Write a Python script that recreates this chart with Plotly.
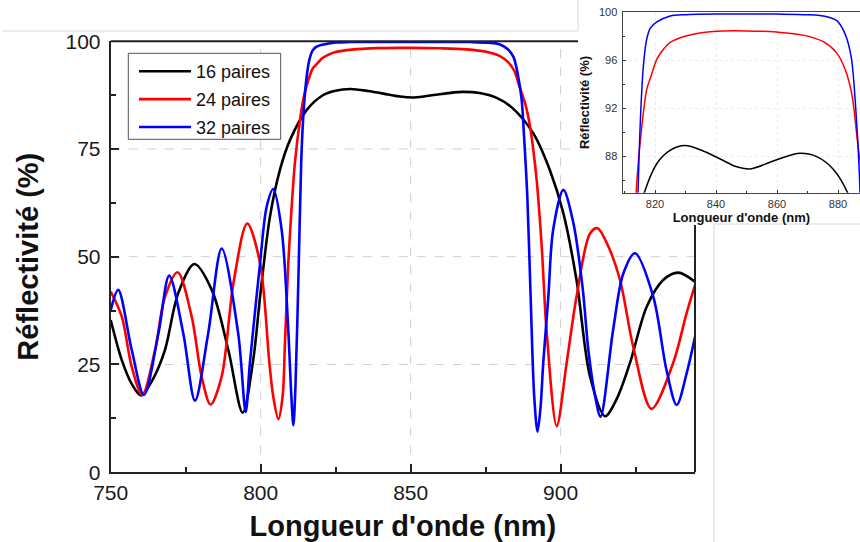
import plotly.graph_objects as go

W, H = 860, 542

# ---------------- data ----------------
series_names = ["16 paires", "24 paires", "32 paires"]
series_colors = ["#000000", "#ff0000", "#0000ff"]

wl_16 = [750, 753.7, 757, 760.1, 764, 768.1, 772.5, 777.9, 783.7, 789.2, 794, 797.5,
         799.8, 803.1, 806.4, 809.8, 815.3, 820.6, 824.9, 829.8, 835.8, 842.4, 846.5,
         851.2, 857.7, 862.5, 867.5, 873, 878.5, 883.6, 890.9, 896.4, 900.9, 905.3,
         909.8, 914.8, 918.7, 923.1, 928.7, 934.2, 939.2, 944.8]
R_16 = [35.3, 26, 20.5, 17.8, 21.5, 28.4, 41.5, 48.3, 42.3, 28.4, 13.8, 26,
        40.7, 59.3, 70.1, 77.1, 84, 87.4, 88.5, 88.9, 88.45, 87.65, 87.15,
        86.95, 87.5, 87.95, 88.25, 87.97, 86.9, 84.7, 78.6, 70.1, 60.1, 44.6,
        22.2, 13, 17, 25.3, 38.4, 44.6, 46.3, 44.2]

wl_24 = [750, 753.7, 757, 760.5, 764.8, 768.1, 772.3, 777, 780.3, 783.3, 787, 790.9,
         795.5, 799.8, 802.9, 804.2, 805.9, 807.3, 808.1, 809.2, 810, 811.4, 813.1,
         814.2, 815.3, 817.3, 818.6, 820.6, 823, 825, 830.4, 839, 850, 860, 868.6,
         875.2, 879.6, 882.4, 884.5, 886.4, 888.2, 889.8, 892, 893.7, 895.3, 898.7,
         902, 905.3, 909.8, 912.3, 915.5, 919.8, 924.2, 930.3, 937.5, 942, 944.8]
R_24 = [41.9, 36.1, 24.5, 17.9, 28.4, 40.7, 46.4, 36.1, 22.2, 15.7, 22.2, 43.8,
        57.7, 48.5, 25.3, 17.5, 12.3, 17.5, 30, 48.5, 58, 71.7, 81.7,
        86.5, 89.6, 93.6, 94.6, 96.1, 97, 97.5, 98.05, 98.4, 98.45, 98.35, 98.1,
        97.55, 96.6, 95.2, 93.2, 89.2, 85.5, 80.2, 67.8, 52.3, 33, 10.7,
        25.3, 40.7, 55.4, 56.6, 53, 44.6, 29.1, 14.7, 25.3, 36.9, 43.4]

wl_32 = [750, 752.5, 757, 761.1, 765.9, 769.5, 774.2, 778.1, 782.5, 787, 792.5, 795,
         796.4, 799.8, 802, 804.2, 807, 809.2, 810.2, 810.9, 811.6, 812.7, 813.5,
         814.2, 815.2, 816.2, 817.3, 818.5, 820.6, 825, 830, 840, 850, 860, 870,
         876, 879.6, 882.3, 884.3, 885.8, 887, 887.8, 888.9, 890, 891.2, 892.3,
         893.3, 894.2, 895.9, 897.5, 900.9, 904.2, 907.3, 909.3, 911.4, 913.3,
         917.5, 920.9, 924.8, 930.9, 935.3, 938.7, 942, 944.8]
R_32 = [37.6, 42.3, 28.4, 17.9, 32.2, 45.6, 32.2, 16.6, 32.2, 51.9, 32.2, 14,
        25.3, 48.5, 61.6, 65.7, 56.2, 33, 18, 10.9, 20, 48.5, 71.7,
        82.5, 91, 95.6, 97.8, 98.7, 99.2, 99.7, 99.8, 99.85, 99.85, 99.85, 99.8,
        99.65, 99.3, 98.2, 96.3, 92, 86.5, 78, 63.9, 40.7, 17.5, 9.4,
        15, 25.3, 40.7, 56.2, 65.5, 58, 43, 28, 18, 12.9,
        33, 46.1, 50.8, 40.7, 23.7, 15.6, 22.9, 31.4]

wavelengths = [wl_16, wl_24, wl_32]
reflectivity = [R_16, R_24, R_32]

main_x_ticks = [750, 800, 850, 900]
main_y_ticks = [0, 25, 50, 75, 100]
inset_x_ticks = [820, 840, 860, 880]
inset_y_ticks = [88, 92, 96, 100]

x_title = "Longueur d'onde (nm)"
y_title = "Réflectivité (%)"

FONT = "Liberation Sans, Arial, sans-serif"
AXC = "#222222"

# ---------------- layout geometry (pixels) ----------------
def fx(p):
    return p / W

def fy(p):
    return 1 - p / H

main_l, main_r, main_t, main_b = 110.7, 695.0, 41.2, 472.2
ins_l, ins_r, ins_t, ins_b = 622.7, 860.0, 12.3, 192.7
inset_cut_px = 578.0   # where the inset box hides the main frame
inset_box_bottom = 225.0
leg_box = (128.3, 280.7, 53.3, 139.3)

fig = go.Figure()

for name, col, xs, ys in zip(series_names, series_colors, wavelengths, reflectivity):
    fig.add_trace(go.Scatter(x=xs, y=ys, name=name, mode="lines",
                             line=dict(color=col, width=2.6, shape="spline", smoothing=0.9),
                             xaxis="x", yaxis="y", legendgroup=name))
for name, col, xs, ys in zip(series_names, series_colors, wavelengths, reflectivity):
    fig.add_trace(go.Scatter(x=xs, y=ys, name=name, mode="lines", showlegend=False,
                             line=dict(color=col, width=1.5, shape="spline", smoothing=0.9),
                             xaxis="x2", yaxis="y2", legendgroup=name, hoverinfo="skip"))

cut_dom_x = (inset_cut_px - main_l) / (main_r - main_l)
cut_dom_y = (main_b - inset_box_bottom) / (main_b - main_t)

shapes = []
# dashed grid of the main plot
for v in main_x_ticks[1:]:
    shapes.append(dict(type="line", xref="x", yref="y domain", x0=v, x1=v, y0=0, y1=1,
                       line=dict(color="#cfcfcf", width=1, dash="dash"), layer="below"))
for v in main_y_ticks[1:-1]:
    x1 = cut_dom_x if v > 60 else 1
    shapes.append(dict(type="line", xref="x domain", yref="y", x0=0, x1=x1, y0=v, y1=v,
                       line=dict(color="#cfcfcf", width=1, dash="dash"), layer="below"))
# main frame (top and right, partly hidden behind the inset)
shapes.append(dict(type="line", xref="x domain", yref="y domain", x0=0, x1=cut_dom_x, y0=1, y1=1,
                   line=dict(color=AXC, width=2)))
shapes.append(dict(type="line", xref="x domain", yref="y domain", x0=1, x1=1, y0=0, y1=cut_dom_y,
                   line=dict(color=AXC, width=2)))
# legend frame
shapes.append(dict(type="rect", xref="paper", yref="paper",
                   x0=fx(leg_box[0]), x1=fx(leg_box[1]), y0=fy(leg_box[3]), y1=fy(leg_box[2]),
                   line=dict(color="#555555", width=1), fillcolor="white"))
# light grey page edges visible in the picture
grey = dict(color="#dadada", width=1)
shapes += [
    dict(type="line", xref="paper", yref="paper", x0=fx(3), x1=fx(inset_cut_px), y0=fy(31), y1=fy(31), line=grey),
    dict(type="line", xref="paper", yref="paper", x0=fx(inset_cut_px), x1=fx(inset_cut_px), y0=fy(0), y1=fy(31), line=grey),
    dict(type="line", xref="paper", yref="paper", x0=fx(714), x1=fx(714), y0=fy(224), y1=fy(542), line=grey),
    dict(type="line", xref="paper", yref="paper", x0=fx(714), x1=fx(860), y0=fy(224), y1=fy(224), line=grey),
]

fig.update_layout(
    width=W, height=H,
    margin=dict(l=0, r=0, t=0, b=0, autoexpand=False),
    paper_bgcolor="white", plot_bgcolor="rgba(0,0,0,0)",
    font=dict(family=FONT, color="#111111"),
    showlegend=True,
    legend=dict(x=fx(134), y=fy(53), xanchor="left", yanchor="top",
                bgcolor="rgba(0,0,0,0)", borderwidth=0,
                font=dict(size=18, color="#111111"), itemwidth=52,
                tracegroupgap=1.5),
    xaxis=dict(domain=[fx(main_l), fx(main_r)], range=[750, 944.8], anchor="y", automargin=False,
               tickvals=main_x_ticks, ticks="inside", ticklen=8, tickwidth=1.5, tickcolor=AXC,
               minor=dict(dtick=25, tick0=750, ticks="inside", ticklen=5, tickwidth=1.5, tickcolor=AXC),
               showline=True, linecolor=AXC, linewidth=2, showgrid=False, zeroline=False,
               tickfont=dict(size=21, color="#1a1a1a"), ticklabelstandoff=1,
               title=dict(text="<b>" + x_title + "</b>", font=dict(size=29, color="#111111"), standoff=13)),
    yaxis=dict(domain=[fy(main_b), fy(main_t)], range=[0, 100], anchor="x", automargin=False,
               tickvals=main_y_ticks, ticks="inside", ticklen=8, tickwidth=1.5, tickcolor=AXC,
               minor=dict(dtick=12.5, tick0=0, ticks="inside", ticklen=5, tickwidth=1.5, tickcolor=AXC),
               showline=True, linecolor=AXC, linewidth=2, showgrid=False, zeroline=False,
               tickfont=dict(size=21, color="#1a1a1a"), ticklabelstandoff=4,
               title=dict(text="<b>" + y_title + "</b>", font=dict(size=29, color="#111111"), standoff=18)),
    xaxis2=dict(domain=[fx(ins_l), fx(ins_r)], range=[809.4, 887.2], anchor="y2", automargin=False,
                tickvals=inset_x_ticks, ticks="inside", ticklen=3, tickwidth=1, tickcolor="#333",
                minor=dict(dtick=10, tick0=800, ticks="inside", ticklen=2, tickwidth=1, tickcolor="#333"),
                showline=True, mirror=True, linecolor="#444", linewidth=1.3,
                showgrid=True, gridcolor="#ececec", griddash="dot", gridwidth=1, zeroline=False,
                tickfont=dict(size=11, color="#333"), ticklabelstandoff=1,
                title=dict(text="<b>" + x_title + "</b>", font=dict(size=13, color="#111111"), standoff=2)),
    yaxis2=dict(domain=[fy(ins_b), fy(ins_t)], range=[84.97, 100], anchor="x2", automargin=False,
                tickvals=inset_y_ticks, ticks="inside", ticklen=3, tickwidth=1, tickcolor="#333",
                minor=dict(dtick=2, tick0=84, ticks="inside", ticklen=2, tickwidth=1, tickcolor="#333"),
                showline=True, linecolor="#444", linewidth=1.3,
                showgrid=True, gridcolor="#ececec", griddash="dot", gridwidth=1, zeroline=False,
                tickfont=dict(size=11, color="#333"), ticklabelstandoff=2,
                title=dict(text="<b>" + y_title + "</b>", font=dict(size=13, color="#111111"), standoff=6)),
    shapes=shapes,
)

fig.write_html("out.html", config={"displayModeBar": False})

# remove the browser's default 8px body margin so the figure fills the window exactly
with open("out.html", "r", encoding="utf-8") as f:
    html = f.read()
html = html.replace("<body>", '<body style="margin:0;padding:0;overflow:hidden">', 1)
with open("out.html", "w", encoding="utf-8") as f:
    f.write(html)
